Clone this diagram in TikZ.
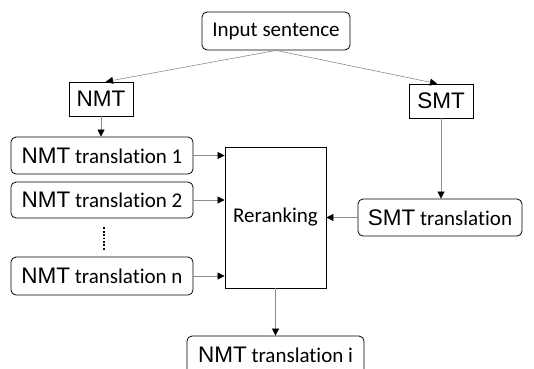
\documentclass[tikz,border=0pt]{standalone}
\usepackage{fontspec}
\setmainfont{Carlito}[Ligatures=NoCommon]
\newfontfamily\arialfont{Liberation Sans}
\usetikzlibrary{arrows.meta,positioning}
\definecolor{LineGray}{HTML}{8C8C8C}
\newcommand{\sysname}[1]{{\arialfont\fontsize{22.5}{26}\selectfont #1}}

\begin{document}
\begin{tikzpicture}[x=1pt,y=-1pt,
  every node/.style={font=\fontsize{21}{25}\selectfont},
  roundbox/.style={draw=black,line width=0.8pt,rounded corners=5pt,inner sep=0pt,minimum height=37pt},
  sysbox/.style={draw=black,line width=0.8pt,inner sep=0pt,minimum width=64pt,minimum height=34pt},
  link/.style={-{Triangle[length=7pt,width=7pt,black]},LineGray,line width=0.6pt},
  dots/.style={black,line width=1.8pt,dash pattern=on 1.8pt off 1.6pt}]
  \useasboundingbox (0,0) rectangle (534,368);
  % top: input and the two systems
  \node[roundbox,minimum width=148pt,minimum height=38pt] (input) at (276,31) {Input sentence};
  \node[sysbox] (nmt) at (101,99) {\sysname{NMT}};
  \node[sysbox] (smt) at (441,101) {\sysname{SMT}};
  % n-best list on the left, SMT output on the right
  \node[roundbox,minimum width=182pt] (nmt1) at (102,155.5) {\sysname{NMT} translation 1};
  \node[roundbox,minimum width=182pt,minimum height=36pt] (nmt2) at (102,200) {\sysname{NMT} translation 2};
  \node[roundbox,minimum width=182pt,minimum height=38pt] (nmtn) at (102,276) {\sysname{NMT} translation n};
  \node[draw=black,line width=0.8pt,inner sep=0pt,minimum width=101pt,minimum height=141pt] (rerank) at (275.5,217.5) {Reranking};
  \node[roundbox,minimum width=164pt] (smttr) at (440,217.5) {\sysname{SMT} translation};
  \node[roundbox,minimum width=177pt,minimum height=38pt] (nmti) at (275.5,355) {\sysname{NMT} translation i};
  \draw[link] (input.south) -- ([xshift=5pt]nmt.north);
  \draw[link] (input.south) -- ([xshift=-4pt]smt.north);
  \draw[link] (nmt.south) -- (nmt.south |- nmt1.north);
  \draw[link] (smt.south) -- (smt.south |- smttr.north);
  \draw[link] (nmt1.east) -- (nmt1.east -| rerank.west);
  \draw[link] (nmt2.east) -- (nmt2.east -| rerank.west);
  \draw[link] (nmtn.east) -- (nmtn.east -| rerank.west);
  \draw[link] (smttr.west) -- (smttr.west -| rerank.east);
  \draw[link] (rerank.south) -- (rerank.south |- nmti.north);
  \draw[dots] ([xshift=2pt,yshift=-9pt]nmt2.south) -- ([xshift=2pt,yshift=7pt]nmtn.north);
\end{tikzpicture}
\end{document}
